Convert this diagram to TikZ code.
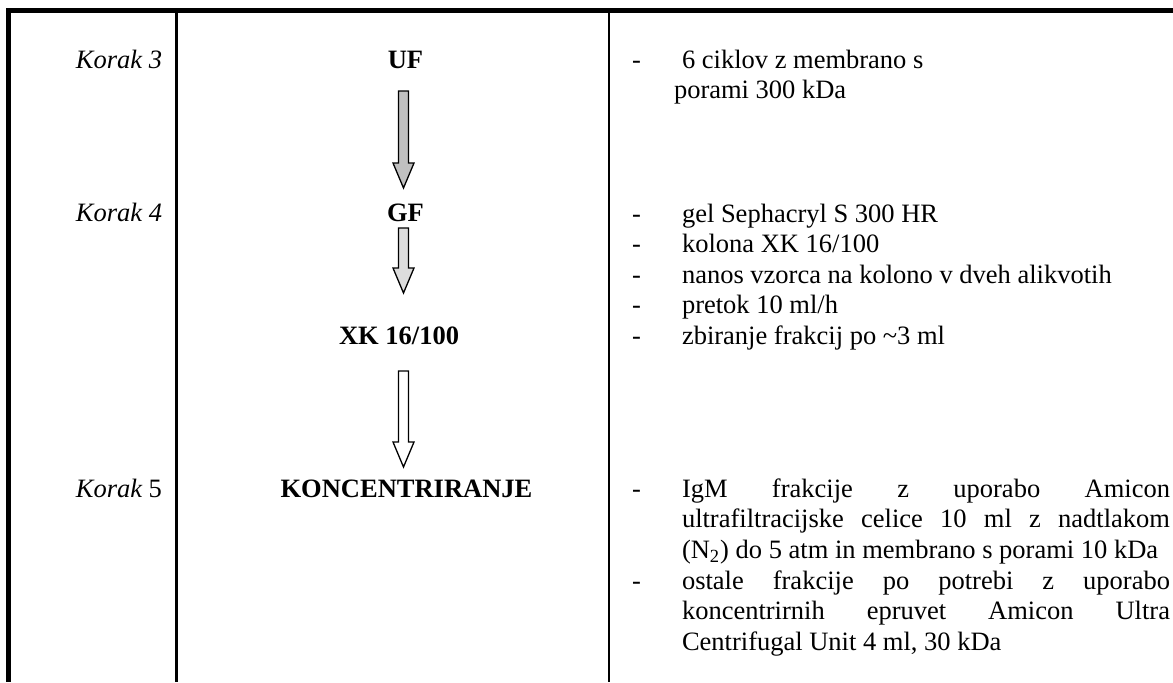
\documentclass[tikz,border=0pt]{standalone}
\usepackage{fontspec}
\setmainfont{Liberation Serif}
\usetikzlibrary{calc}

\definecolor{ufgray}{HTML}{C0C0C0}
\definecolor{gfgray}{HTML}{DDDDDD}

\tikzset{
  every node/.style={inner sep=0pt, outer sep=0pt,
    font=\fontsize{13.25}{15.25}\selectfont},
  korak/.style={anchor=base east, font=\fontsize{13.25}{15.25}\selectfont\itshape},
  stage/.style={anchor=base, font=\fontsize{13.25}{15.25}\selectfont\bfseries},
  dashmark/.style={anchor=base},
  itemtext/.style={anchor=base west},
  paratext/.style={anchor=base west, text width=244pt, align=justify,
    execute at begin node={\hyphenpenalty=10000\relax\exhyphenpenalty=10000\relax}},
  outerframe/.style={line width=2.5pt},
  colrule/.style={line width=1.25pt},
  blockarrow/.style={draw=black, line width=0.65pt, line join=miter}
}

% hollow block arrow from a top point down to its tip
\newcommand\flowarrow[3]{%
  \draw[blockarrow, fill=#3]
    ($(#1)+(-5,0)$) -- ($(#1)+(5,0)$) -- ($(#2)+(5,-25)$) -- ($(#2)+(10.5,-25)$)
    -- (#2) -- ($(#2)+(-10.5,-25)$) -- ($(#2)+(-5,-25)$) -- cycle;}

\begin{document}
\begin{tikzpicture}[x=0.5pt,y=-0.5pt]
\useasboundingbox (0,0) rectangle (1173,682);

% table frame and column rules
\draw[outerframe] (6,10.5) -- (1173,10.5);
\draw[outerframe] (8.5,8) -- (8.5,682);
\draw[colrule] (176.5,13) -- (176.5,682);
\draw[colrule] (609,13) -- (609,682);

% step labels
\node[korak] (k3) at (162,68) {Korak 3};
\node[korak] (k4) at (162,221) {Korak 4};
\node[korak] (k5) at (162,497) {Korak \upshape 5};

% procedure stages
\node[stage] (uf) at (405.5,68) {UF};
\node[stage] (gf) at (405.5,221) {GF};
\node[stage] (xk) at (399,344) {XK 16/100};
\node[stage] (konc) at (406.5,497) {KONCENTRIRANJE};

% arrow ends
\coordinate (a1t) at (403.5,91);  \coordinate (a1h) at (403.5,188);
\coordinate (a2t) at (403.5,228); \coordinate (a2h) at (403.5,293);
\coordinate (a3t) at (403.5,371); \coordinate (a3h) at (403.5,467);

\flowarrow{a1t}{a1h}{ufgray}
\flowarrow{a2t}{a2h}{gfgray}
\flowarrow{a3t}{a3h}{white}

% conditions, step 3
\node[dashmark] (d1) at (636.5,68) {-};
\node[itemtext] (t1) at (682,68) {6 ciklov z membrano s};
\node[itemtext] (t1b) at (674,98.5) {porami 300 kDa};

% conditions, step 4
\node[dashmark] (d2) at (636.5,222) {-};
\node[itemtext] (t2) at (682,222) {gel Sephacryl S 300 HR};
\node[dashmark] (d3) at (636.5,252.5) {-};
\node[itemtext] (t3) at (682,252.5) {kolona XK 16/100};
\node[dashmark] (d4) at (636.5,283) {-};
\node[itemtext] (t4) at (682,283) {nanos vzorca na kolono v dveh alikvotih};
\node[dashmark] (d5) at (636.5,313.5) {-};
\node[itemtext] (t5) at (682,313.5) {pretok 10 ml/h};
\node[dashmark] (d6) at (636.5,344) {-};
\node[itemtext] (t6) at (682,344) {zbiranje frakcij po \textasciitilde3 ml};

% conditions, step 5
\node[dashmark] (d7) at (636.5,497) {-};
\node[paratext] (t7) at (682,497) {IgM frakcije z uporabo Amicon\linebreak
  ultrafiltracijske celice 10 ml z nadtlakom\linebreak
  (N\textsubscript{2}) do 5 atm in membrano s porami 10 kDa};
\node[dashmark] (d8) at (636.5,589) {-};
\node[paratext] (t8) at (682,589) {ostale frakcije po potrebi z uporabo\linebreak
  koncentrirnih epruvet Amicon Ultra\linebreak
  Centrifugal Unit 4 ml, 30 kDa};
\end{tikzpicture}
\end{document}
